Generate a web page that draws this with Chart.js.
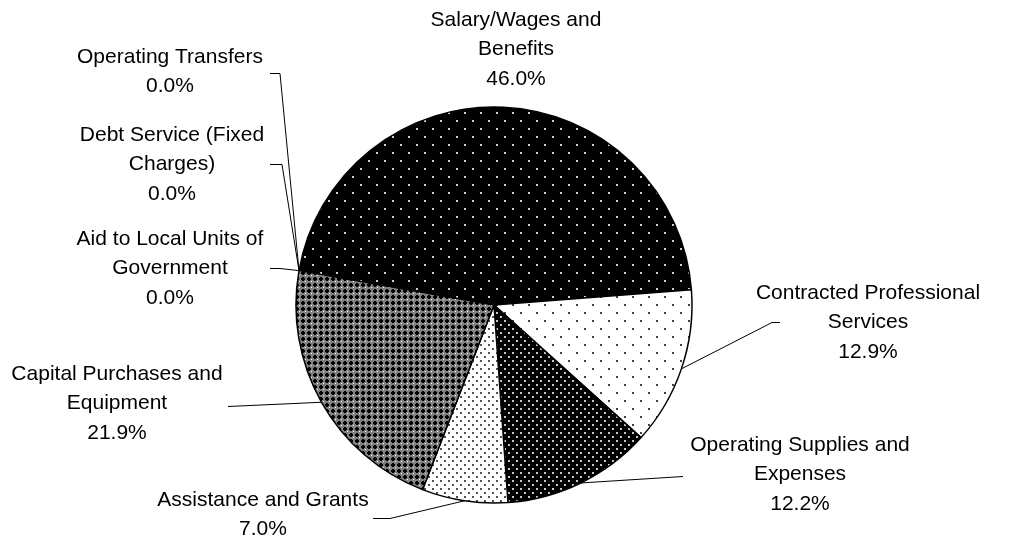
<!DOCTYPE html>
<html>
<head>
<meta charset="utf-8">
<script src="https://cdn.jsdelivr.net/npm/chart.js@4.4.0/dist/chart.umd.min.js"></script>
<style>
  html, body { margin: 0; padding: 0; background: #fff; }
</style>
</head>
<body>
<canvas id="chart" width="1022" height="542"></canvas>
<script>
// slices, clockwise from the Salary slice
const categories = [
  'Salary/Wages and Benefits',
  'Contracted Professional Services',
  'Operating Supplies and Expenses',
  'Assistance and Grants',
  'Capital Purchases and Equipment',
  'Aid to Local Units of Government',
  'Debt Service (Fixed Charges)',
  'Operating Transfers'
];
const shares = [46.0, 12.9, 12.2, 7.0, 21.9, 0.0, 0.0, 0.0];

// how each category name wraps in the label
const labelLines = [
  ['Salary/Wages and', 'Benefits'],
  ['Contracted Professional', 'Services'],
  ['Operating Supplies and', 'Expenses'],
  ['Assistance and Grants'],
  ['Capital Purchases and', 'Equipment'],
  ['Aid to Local Units of', 'Government'],
  ['Debt Service (Fixed', 'Charges)'],
  ['Operating Transfers']
];

// label block placement: centre x, middle of first line
const labelPos = [
  [516, 20], [868, 293], [800, 445], [263, 500],
  [117, 374], [170, 239], [172, 135], [170, 57]
];
// leader line points on the label side; the last point is found on the slice
const leaders = [
  null,
  [[780, 322], [772, 322]],
  [[683, 476]],
  [[373, 518], [390, 518]],
  [[228, 406]],
  [[270, 268], [280, 268]],
  [[270, 164], [282, 164]],
  [[270, 73], [280, 73]]
];

const canvas = document.getElementById('chart');
const ctx = canvas.getContext('2d');

function tile(size, bg, draw) {
  const c = document.createElement('canvas');
  c.width = c.height = size;
  const g = c.getContext('2d');
  g.fillStyle = bg;
  g.fillRect(0, 0, size, size);
  draw(g);
  return ctx.createPattern(c, 'repeat');
}

const fills = [
  tile(16, '#000', g => { g.fillStyle = '#d0d0d0'; g.fillRect(0, 0, 2, 2); g.fillRect(8, 8, 2, 2); }),
  tile(16, '#fff', g => { g.fillStyle = '#404040'; g.fillRect(0, 0, 2, 2); g.fillRect(8, 8, 2, 2); }),
  tile(8, '#000', g => { g.fillStyle = '#c8c8c8'; g.fillRect(0, 0, 2, 2); g.fillRect(4, 4, 2, 2); }),
  tile(8, '#fff', g => { g.fillStyle = '#505050'; g.fillRect(0, 0, 2, 2); g.fillRect(4, 4, 2, 2); }),
  tile(6, '#808080', g => {
    g.fillStyle = '#000';
    g.fillRect(2, 1, 2, 4);
    g.fillRect(1, 2, 4, 2);
    g.fillStyle = '#fff';
    g.fillRect(5, 5, 1, 1);
  }),
  '#fff', '#fff', '#fff'
];

const labelPlugin = {
  id: 'pieLabels',
  afterDraw(chart) {
    const c = chart.ctx;
    const meta = chart.getDatasetMeta(0);
    c.save();
    c.strokeStyle = '#000';
    c.lineWidth = 1;
    c.fillStyle = '#000';
    c.font = '21px "Liberation Sans", Arial, sans-serif';
    c.textAlign = 'center';
    c.textBaseline = 'middle';
    meta.data.forEach((arc, i) => {
      const p = arc.getProps(['x', 'y', 'startAngle', 'endAngle', 'outerRadius'], true);
      const mid = (p.startAngle + p.endAngle) / 2;
      const ex = p.x + Math.cos(mid) * p.outerRadius;
      const ey = p.y + Math.sin(mid) * p.outerRadius;
      const path = leaders[i];
      if (path) {
        c.beginPath();
        c.moveTo(path[0][0], path[0][1] + 0.5);
        path.slice(1).forEach(pt => c.lineTo(pt[0], pt[1] + 0.5));
        c.lineTo(ex, ey);
        c.stroke();
      }
      const lines = labelLines[i].concat([shares[i].toFixed(1) + '%']);
      const [lx, ly] = labelPos[i];
      lines.forEach((t, k) => c.fillText(t, lx, ly + k * 29.5));
    });
    c.restore();
  }
};

new Chart(ctx, {
  type: 'pie',
  data: {
    labels: categories,
    datasets: [{
      data: shares,
      backgroundColor: fills,
      borderColor: '#000',
      borderWidth: 1.5,
      hoverOffset: 0
    }]
  },
  options: {
    responsive: false,
    animation: false,
    events: [],
    rotation: -80,
    radius: 198,
    layout: { padding: { top: 100, bottom: 32, left: 200, right: 234 } },
    plugins: {
      legend: { display: false },
      tooltip: { enabled: false }
    }
  },
  plugins: [labelPlugin]
});
</script>
</body>
</html>
